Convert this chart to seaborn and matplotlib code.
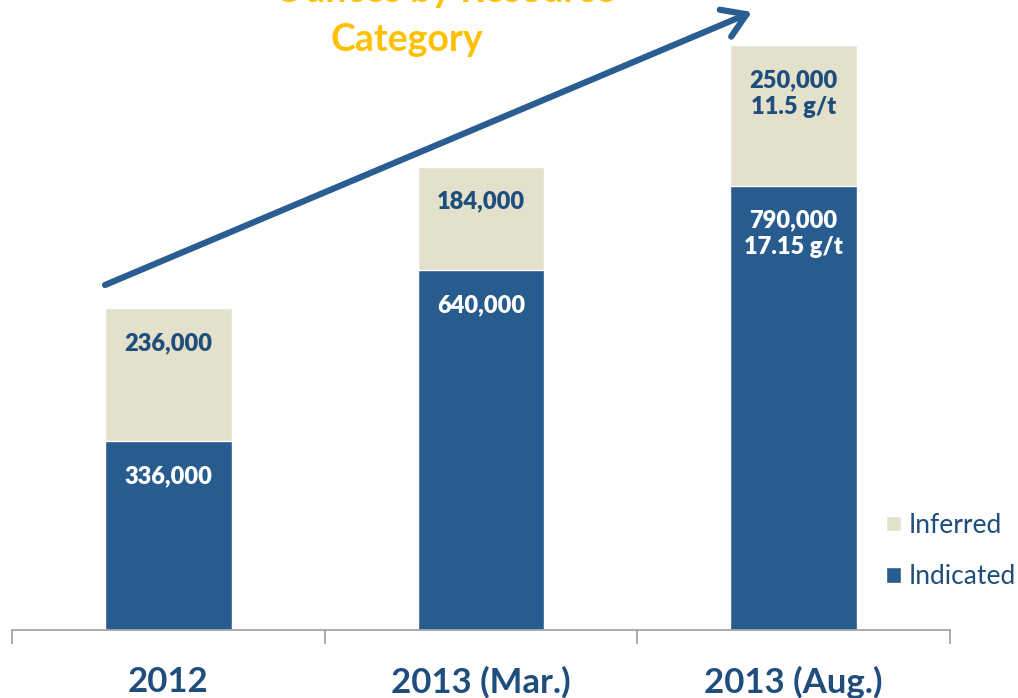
import pandas as pd
import seaborn as sns
import matplotlib.pyplot as plt
from matplotlib.patches import Patch

periods = ['2012', '2013 (Mar.)', '2013 (Aug.)']
indicated = [336000, 640000, 790000]
inferred = [236000, 184000, 250000]
indicated_labels = ['336,000', '640,000', '790,000\n17.15 g/t']
inferred_labels = ['236,000', '184,000', '250,000\n11.5 g/t']

blue = '#285C8F'
beige = '#E3E0CC'
navy = '#1F4E7C'
gold = '#FFC000'

df = pd.DataFrame({'period': periods, 'indicated': indicated, 'inferred': inferred})
df['total'] = df['indicated'] + df['inferred']

sns.set_style('white')
plt.rcParams['font.family'] = ['Lato', 'DejaVu Sans']

fig = plt.figure(figsize=(10.18, 6.98), dpi=100)
ax = fig.add_axes([12 / 1018, 68 / 698, 938 / 1018, 630 / 698])

# stacked: draw totals (inferred colour) first, indicated on top
sns.barplot(data=df, x='period', y='total', color=beige, width=0.405,
            saturation=1, ax=ax)
sns.barplot(data=df, x='period', y='indicated', color=blue, width=0.405,
            saturation=1, ax=ax)

ax.set_xlim(-0.5, 2.5)
ax.set_ylim(0, 1120000)
ax.set_xlabel('')
ax.set_ylabel('')
ax.set_yticks([])
for s in ['top', 'right', 'left']:
    ax.spines[s].set_visible(False)
ax.spines['bottom'].set_color('#A6A6A6')
ax.spines['bottom'].set_linewidth(1.3)

ax.set_xticks([-0.5, 0.5, 1.5, 2.5])
ax.set_xticklabels([])
ax.tick_params(axis='x', which='major', bottom=True, direction='out',
               length=10, width=1.3, color='#A6A6A6')
ax.set_xticks(range(len(periods)), minor=True)
ax.set_xticklabels(periods, minor=True, fontsize=25, fontweight='bold',
                   color=navy)
ax.tick_params(axis='x', which='minor', bottom=True, length=0, pad=26)

for i in range(len(periods)):
    ax.annotate(indicated_labels[i], xy=(i, indicated[i]),
                xytext=(0, -24), textcoords='offset pixels',
                ha='center', va='top', color='white', fontsize=17,
                fontweight='heavy', linespacing=1.25)
    ax.annotate(inferred_labels[i], xy=(i, indicated[i] + inferred[i]),
                xytext=(0, -24), textcoords='offset pixels',
                ha='center', va='top', color=navy, fontsize=17,
                fontweight='heavy', linespacing=1.25)

# growth arrow
ax.annotate('', xy=(752 / 1018, (698 - 12) / 698), xycoords='figure fraction',
            xytext=(105 / 1018, (698 - 285) / 698), textcoords='figure fraction',
            arrowprops=dict(arrowstyle='->,head_length=0.55,head_width=0.35',
                            color='#2A5E93', lw=4.5, mutation_scale=30,
                            shrinkA=0, shrinkB=0))

# title (first line runs off the top of the slide)
fig.text(445 / 1018, (698 - 1.5) / 698, 'Ounces by Resource', ha='center',
         va='baseline', color=gold, fontsize=27, fontweight='bold')
fig.text(407 / 1018, (698 - 40) / 698, 'Category', ha='center', va='center',
         color=gold, fontsize=27, fontweight='bold')

handles = [Patch(facecolor=beige, label='Inferred'),
           Patch(facecolor=blue, label='Indicated')]
fig.legend(handles=handles, loc='center left',
           bbox_to_anchor=(886 / 1018, (698 - 551) / 698), frameon=False,
           fontsize=19, labelcolor=navy, handlelength=0.55, handleheight=0.55,
           handletextpad=0.3, labelspacing=1.0, borderaxespad=0,
           borderpad=0)

fig.savefig('out.png', dpi=100)
